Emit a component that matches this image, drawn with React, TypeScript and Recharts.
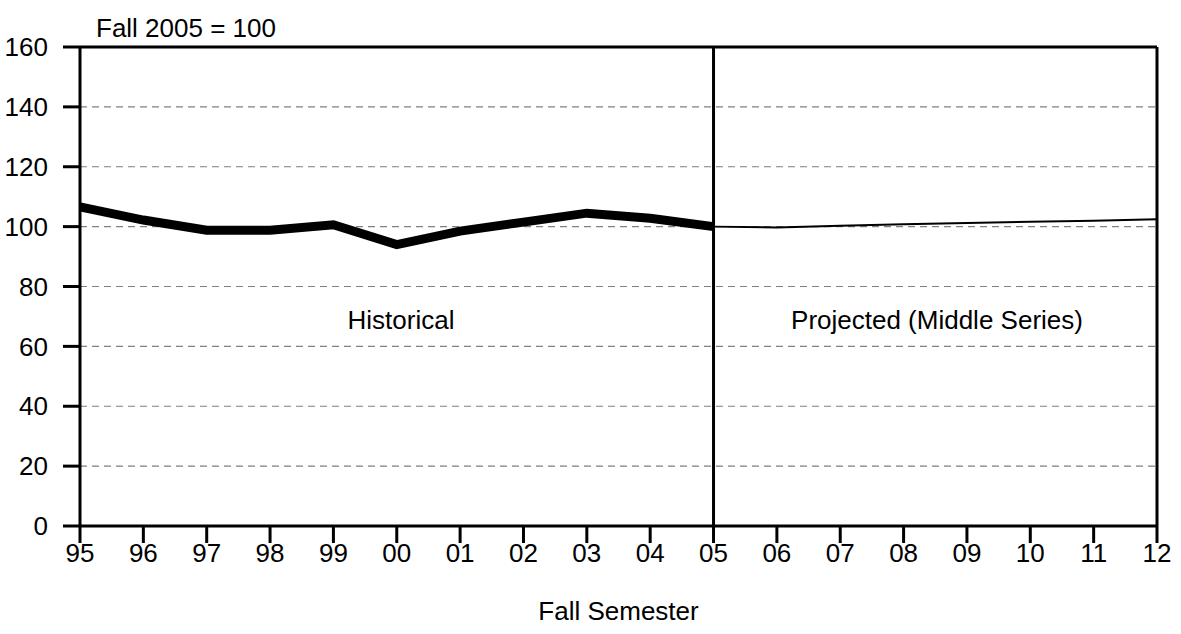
import { LineChart, Line, XAxis, YAxis, CartesianGrid, ReferenceLine } from 'recharts';

const years = ['95', '96', '97', '98', '99', '00', '01', '02', '03', '04', '05', '06', '07', '08', '09', '10', '11', '12'];
const historical = [106.6, 102.2, 98.8, 98.8, 100.6, 94, 98.5, 101.5, 104.5, 102.8, 100, null, null, null, null, null, null, null];
const projected = [null, null, null, null, null, null, null, null, null, null, 100, 99.7, 100.3, 100.8, 101.2, 101.6, 102, 102.5];
const yTicks = [0, 20, 40, 60, 80, 100, 120, 140, 160];

const data = years.map((year, i) => ({ year, historical: historical[i], projected: projected[i] }));

const font = '"Liberation Sans", Arial, sans-serif';
const tickStyle = { fill: '#000', fontSize: 26, fontFamily: font };

export default function App() {
  return (
    <div style={{ position: 'absolute', left: 0, top: 0, width: 1181, height: 634, background: '#fff', fontFamily: font }}>
      <LineChart width={1181} height={634} data={data} margin={{ top: 47, right: 24, bottom: 0, left: 0 }}>
        <CartesianGrid vertical={false} stroke="#808080" strokeDasharray="7 5" strokeWidth={1.2} />
        <XAxis
          dataKey="year"
          interval={0}
          height={108}
          tickSize={17}
          tickMargin={1}
          tick={tickStyle}
          axisLine={{ stroke: '#000', strokeWidth: 3 }}
          tickLine={{ stroke: '#000', strokeWidth: 3 }}
          label={{ value: 'Fall Semester', position: 'insideBottom', offset: 14, fill: '#000', fontSize: 26, fontFamily: font }}
        />
        <YAxis
          width={80}
          domain={[0, 160]}
          ticks={yTicks}
          tickSize={17}
          tickMargin={15}
          tick={tickStyle}
          axisLine={{ stroke: '#000', strokeWidth: 3 }}
          tickLine={{ stroke: '#000', strokeWidth: 3 }}
        />
        <ReferenceLine y={160} stroke="#000" strokeWidth={3} />
        <ReferenceLine x="12" stroke="#000" strokeWidth={3} />
        <ReferenceLine x="05" stroke="#000" strokeWidth={3} />
        <Line type="linear" dataKey="historical" stroke="#000" strokeWidth={9} dot={false} isAnimationActive={false} />
        <Line type="linear" dataKey="projected" stroke="#000" strokeWidth={2} dot={false} isAnimationActive={false} />
      </LineChart>
      <div style={{ position: 'absolute', left: 96, top: 13, fontSize: 26, lineHeight: '30px', color: '#000' }}>Fall 2005 = 100</div>
      <div style={{ position: 'absolute', left: 300, width: 202, top: 305, textAlign: 'center', fontSize: 26, lineHeight: '30px', color: '#000' }}>Historical</div>
      <div style={{ position: 'absolute', left: 777, width: 320, top: 305, textAlign: 'center', fontSize: 26, lineHeight: '30px', color: '#000' }}>Projected (Middle Series)</div>
    </div>
  );
}
